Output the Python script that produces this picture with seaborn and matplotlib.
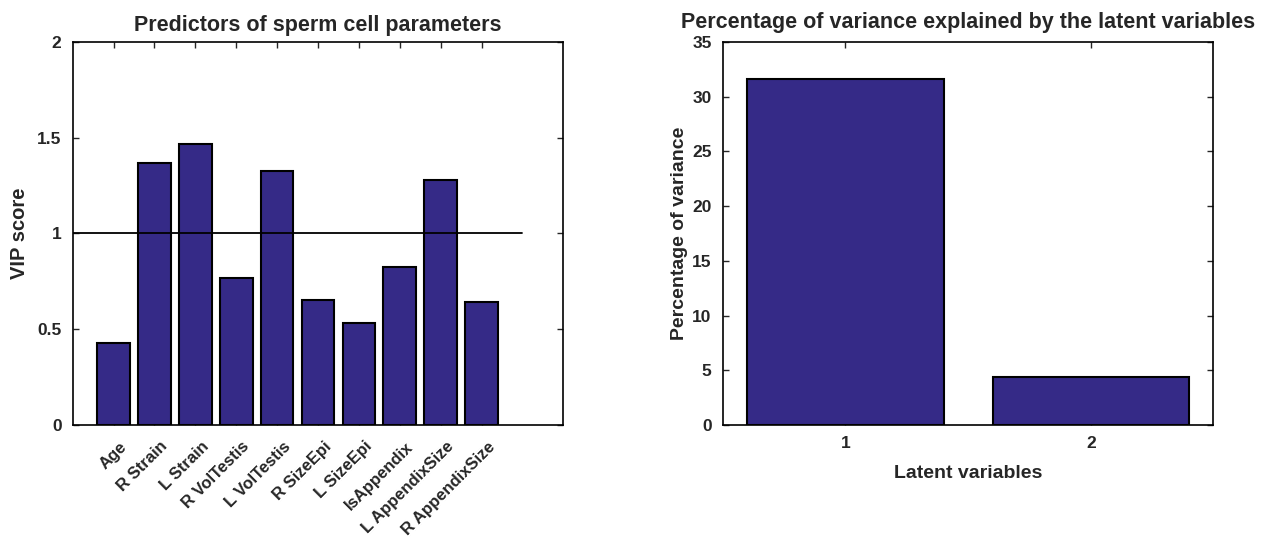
import pandas as pd
import matplotlib
matplotlib.use("Agg")
import matplotlib.pyplot as plt
import matplotlib.transforms as mtransforms
import seaborn as sns

# data
predictors = ["Age", "R Strain", "L Strain", "R VolTestis", "L VolTestis",
              "R SizeEpi", "L SizeEpi", "IsAppendix", "L AppendixSize", "R AppendixSize"]
vip_scores = [0.43, 1.37, 1.465, 0.77, 1.325, 0.655, 0.532, 0.825, 1.28, 0.643]

latent_vars = ["1", "2"]
pct_variance = [31.6, 4.42]

bar_color = "#352a87"

sns.set_style("ticks")
plt.rcParams["font.family"] = ["Liberation Sans", "DejaVu Sans"]
plt.rcParams["font.weight"] = "bold"

fig = plt.figure(figsize=(12.68, 5.38), dpi=100)
ax1 = fig.add_axes([0.0573, 0.210, 0.387, 0.712])
ax2 = fig.add_axes([0.570, 0.210, 0.387, 0.712])

# left: VIP scores
df_vip = pd.DataFrame({"predictor": predictors, "vip": vip_scores})
sns.barplot(data=df_vip, x="predictor", y="vip", color=bar_color, saturation=1,
            width=0.8, edgecolor="black", linewidth=1.5, ax=ax1)
ax1.plot([-1, len(predictors)], [1, 1], color="black", lw=1.3)
ax1.set_xlim(-1, len(predictors) + 1)
ax1.set_ylim(0, 2)
ax1.set_yticks([0, 0.5, 1, 1.5, 2])
ax1.set_yticklabels(["0", "0.5", "1", "1.5", "2"])
ax1.set_title("Predictors of sperm cell parameters", fontsize=15.5, fontweight="bold", pad=8)
ax1.set_ylabel("VIP score", fontsize=14.5, fontweight="bold", labelpad=6)
ax1.set_xlabel("")

# right: variance explained
df_var = pd.DataFrame({"lv": latent_vars, "pct": pct_variance})
sns.barplot(data=df_var, x="lv", y="pct", color=bar_color, saturation=1,
            width=0.8, edgecolor="black", linewidth=1.5, ax=ax2)
ax2.set_xlim(-0.5, 1.5)
ax2.set_ylim(0, 35)
ax2.set_yticks(range(0, 36, 5))
ax2.set_title("Percentage of variance explained by the latent variables",
              fontsize=15.5, fontweight="bold", pad=10)
ax2.set_ylabel("Percentage of variance", fontsize=14, fontweight="bold", labelpad=3)
ax2.set_xlabel("Latent variables", fontsize=14, fontweight="bold", labelpad=10)

for ax in (ax1, ax2):
    for sp in ax.spines.values():
        sp.set_visible(True)
        sp.set_linewidth(1.2)
        sp.set_color("black")
    ax.tick_params(direction="in", top=True, right=True, length=4, width=1,
                   labelsize=12.5, pad=8)
    for lab in ax.get_yticklabels() + ax.get_xticklabels():
        lab.set_fontweight("bold")

ax1.set_xticks(range(len(predictors)))
ax1.set_xticklabels(predictors, rotation=45, ha="right", va="top",
                    rotation_mode="anchor", fontsize=12, fontweight="bold")
shift = mtransforms.ScaledTranslation(4 / 72, -2 / 72, fig.dpi_scale_trans)
for lab in ax1.get_xticklabels():
    lab.set_transform(lab.get_transform() + shift)

fig.savefig("out.png", dpi=100)
